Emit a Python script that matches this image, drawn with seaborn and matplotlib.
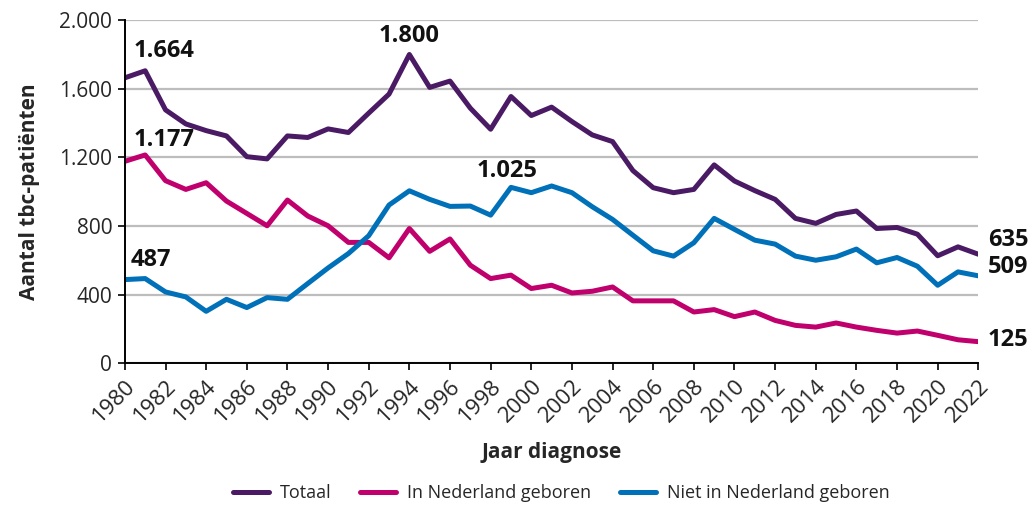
import matplotlib
matplotlib.use("Agg")
import matplotlib.pyplot as plt
import pandas as pd
import seaborn as sns
from matplotlib.ticker import FuncFormatter, MultipleLocator

years = list(range(1980, 2023))

totaal = [1664, 1705, 1477, 1395, 1356, 1325, 1204, 1191, 1325, 1316,
          1366, 1345, 1458, 1569, 1800, 1608, 1645, 1487, 1364, 1555,
          1444, 1493, 1409, 1331, 1292, 1123, 1023, 994, 1013, 1156,
          1062, 1006, 955, 844, 815, 867, 887, 785, 791, 752,
          626, 678, 635]

nl_geboren = [1177, 1214, 1064, 1013, 1052, 945, 873, 801, 951, 858,
              801, 704, 704, 614, 785, 652, 724, 571, 493, 513,
              435, 454, 409, 419, 444, 363, 363, 363, 298, 312,
              271, 298, 249, 220, 210, 234, 210, 191, 175, 187,
              162, 136, 125]

niet_nl_geboren = [487, 493, 415, 386, 302, 372, 324, 382, 372, 464,
                   555, 639, 743, 922, 1005, 955, 914, 916, 863, 1025,
                   994, 1033, 994, 912, 838, 746, 655, 624, 702, 844,
                   780, 717, 694, 624, 600, 620, 665, 585, 616, 565,
                   454, 532, 509]

series_names = ["Totaal", "In Nederland geboren", "Niet in Nederland geboren"]
colors = ["#4a1a64", "#c0006c", "#0070b9"]

# label text, series, year, offset in points
annotations = [
    ("1.664", "Totaal", 1980, (28, 19)),
    ("1.177", "In Nederland geboren", 1980, (28, 15)),
    ("487", "Niet in Nederland geboren", 1980, (19, 14)),
    ("1.800", "Totaal", 1994, (0, 13)),
    ("1.025", "Niet in Nederland geboren", 1999, (-3, 12)),
]
end_labels = [
    ("635", "Totaal", (7, 10)),
    ("509", "Niet in Nederland geboren", (7, 6)),
    ("125", "In Nederland geboren", (7, 1)),
]

df = pd.DataFrame({
    "jaar": years * 3,
    "aantal": totaal + nl_geboren + niet_nl_geboren,
    "groep": [series_names[0]] * len(years) + [series_names[1]] * len(years)
             + [series_names[2]] * len(years),
})

sns.set_theme(style="white")
plt.rcParams["font.family"] = ["Open Sans", "DejaVu Sans"]

fig = plt.figure(figsize=(10.32, 5.05), dpi=100)
ax = fig.add_axes([0.121, 0.281, 0.827, 0.679])

sns.lineplot(data=df, x="jaar", y="aantal", hue="groep", hue_order=series_names,
             palette=colors, linewidth=3.6, ax=ax, legend=True)

ax.set_xlim(1980, 2022)
ax.set_ylim(0, 2000)
ax.xaxis.set_major_locator(MultipleLocator(2))
ax.yaxis.set_major_locator(MultipleLocator(400))
ax.yaxis.set_major_formatter(FuncFormatter(lambda v, _: f"{int(v):,}".replace(",", ".")))
ax.grid(axis="y", color="#bdbdbd", linewidth=1.6)
ax.set_axisbelow(True)

for side in ["top", "right"]:
    ax.spines[side].set_visible(False)
for side in ["left", "bottom"]:
    ax.spines[side].set_color("black")
    ax.spines[side].set_linewidth(1.4)

ax.tick_params(axis="both", which="major", direction="out", length=5, width=1.2,
               color="black", bottom=True, left=True)
ax.tick_params(axis="y", labelsize=15, pad=4)
ax.tick_params(axis="x", labelsize=16, pad=4)
for lbl in ax.get_xticklabels():
    lbl.set_rotation(45)
    lbl.set_ha("right")
    lbl.set_rotation_mode("anchor")

ax.set_xlabel("Jaar diagnose", fontsize=15, fontweight="bold", labelpad=11)
ax.set_ylabel("Aantal tbc-patiënten", fontsize=15, fontweight="bold", labelpad=14)

values = dict(zip(series_names, [totaal, nl_geboren, niet_nl_geboren]))
for text, name, yr, off in annotations:
    ax.annotate(text, xy=(yr, values[name][years.index(yr)]), xytext=off,
                textcoords="offset points", ha="center", va="center",
                fontsize=17, fontweight="bold", color="#111111")
for text, name, off in end_labels:
    ax.annotate(text, xy=(years[-1], values[name][-1]), xytext=off,
                textcoords="offset points", ha="left", va="center",
                fontsize=17, fontweight="bold", color="#111111", annotation_clip=False)

handles, labels = ax.get_legend_handles_labels()
ax.legend(handles, labels, loc="center", bbox_to_anchor=(0.544, 0.024), ncol=3,
          frameon=False, fontsize=13, handlelength=2.0, handletextpad=0.6,
          columnspacing=1.6, bbox_transform=fig.transFigure)
for line in ax.get_legend().get_lines():
    line.set_linewidth(3.6)

fig.savefig("out.png", dpi=100)
